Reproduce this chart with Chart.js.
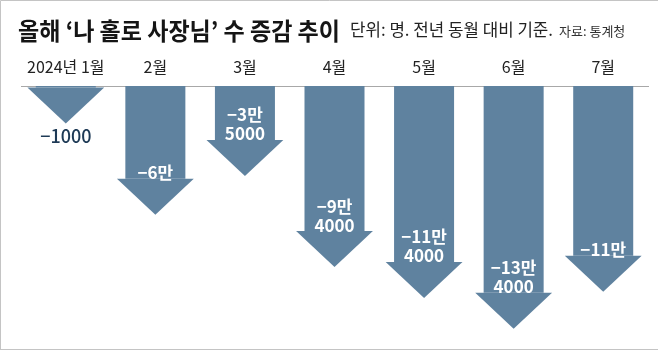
<!DOCTYPE html>
<html>
<head>
<meta charset="utf-8">
<script src="https://cdn.jsdelivr.net/npm/chart.js@4"></script>
<style>
  html, body { margin: 0; padding: 0; background: #fff; }
</style>
</head>
<body>
<canvas id="chart" width="658" height="351"></canvas>
<script>
// 데이터
const months = ['2024년 1월', '2월', '3월', '4월', '5월', '6월', '7월'];
const changes = [-1000, -60000, -35000, -94000, -114000, -134000, -110000];
const titleText = '올해 ‘나 홀로 사장님’ 수 증감 추이';
const unitText = '단위: 명. 전년 동월 대비 기준.';
const sourceText = '자료: 통계청';

const ARROW = '#5f829f';
const KR = '"Noto Sans CJK KR", "Noto Sans", sans-serif';
const HEAD_H = 36;

// -134000 -> ['−13만', '4000']
function formatChange(v) {
    const a = Math.abs(v);
    const man = Math.floor(a / 10000);
    const rest = a % 10000;
    if (man === 0) return ['−' + rest];
    if (rest === 0) return ['−' + man + '만'];
    return ['−' + man + '만', String(rest)];
}

const headerPlugin = {
    id: 'header',
    beforeDraw(chart) {
        const ctx = chart.ctx;
        ctx.save();
        ctx.fillStyle = '#fff';
        ctx.fillRect(0, 0, chart.width, chart.height);

        // 테두리
        ctx.strokeStyle = '#c4c4c4';
        ctx.lineWidth = 1;
        ctx.beginPath();
        ctx.moveTo(0.5, chart.height - 1);
        ctx.lineTo(0.5, 0.5);
        ctx.lineTo(chart.width, 0.5);
        ctx.moveTo(0, chart.height - 1.5);
        ctx.lineTo(chart.width, chart.height - 1.5);
        ctx.stroke();

        ctx.textBaseline = 'middle';
        ctx.textAlign = 'left';
        ctx.fillStyle = '#151515';
        ctx.font = 'bold 24px ' + KR;
        ctx.fillText(titleText, 18, 31, 322);

        ctx.fillStyle = '#222';
        ctx.font = '17px ' + KR;
        ctx.fillText(unitText, 350, 30, 203);

        ctx.fillStyle = '#333';
        ctx.font = '13px ' + KR;
        ctx.fillText(sourceText, 559, 31, 68);
        ctx.restore();
    }
};

const arrowPlugin = {
    id: 'arrowHeads',
    afterDatasetsDraw(chart) {
        const ctx = chart.ctx;
        const meta = chart.getDatasetMeta(0);
        ctx.save();
        meta.data.forEach((bar, i) => {
            const half = bar.width * 0.64;
            ctx.fillStyle = ARROW;
            ctx.beginPath();
            ctx.moveTo(bar.x - half, bar.y);
            ctx.lineTo(bar.x + half, bar.y);
            ctx.lineTo(bar.x, bar.y + HEAD_H);
            ctx.closePath();
            ctx.fill();

            const lines = formatChange(changes[i]);
            ctx.textAlign = 'center';
            ctx.textBaseline = 'middle';
            if (bar.y - bar.base < 20) {
                ctx.font = '500 18px ' + KR;
                ctx.fillStyle = '#1e3a56';
                ctx.fillText(lines[0], bar.x, bar.y + HEAD_H + 13);
            } else {
                ctx.font = 'bold 17px ' + KR;
                ctx.fillStyle = '#fff';
                lines.forEach((t, k) => {
                    const y = bar.y - 6 - (lines.length - 1 - k) * 19;
                    ctx.fillText(t, bar.x, y);
                });
            }
        });
        ctx.restore();
    }
};

new Chart(document.getElementById('chart'), {
    type: 'bar',
    data: {
        labels: months,
        datasets: [{
            data: changes,
            backgroundColor: ARROW,
            borderWidth: 0,
            barPercentage: 0.67,
            categoryPercentage: 1.0
        }]
    },
    options: {
        responsive: false,
        animation: false,
        layout: { padding: { top: 50, left: 21, right: 10, bottom: 18 } },
        plugins: {
            legend: { display: false },
            tooltip: { enabled: false },
            title: { display: false }
        },
        scales: {
            x: {
                position: 'top',
                grid: { display: false, drawTicks: false },
                border: { display: true, color: '#a8a8a8', width: 1 },
                ticks: {
                    color: '#222',
                    font: { family: KR, size: 16 },
                    padding: 9
                },
                afterFit(scale) { scale.height = 36; }
            },
            y: {
                display: false,
                min: -160000,
                max: 0
            }
        }
    },
    plugins: [headerPlugin, arrowPlugin]
});
</script>
</body>
</html>
